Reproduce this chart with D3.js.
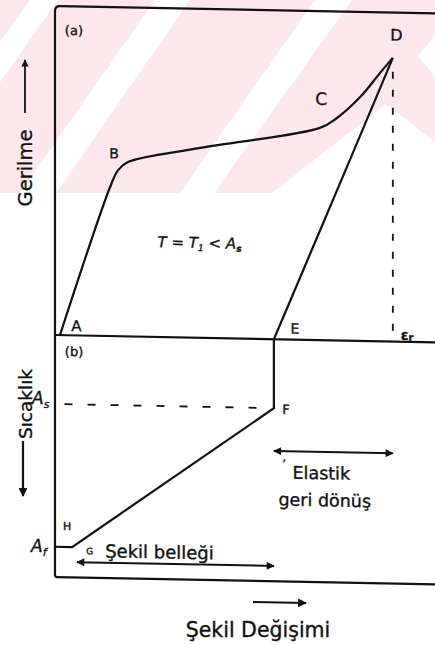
<!DOCTYPE html>
<html>
<head>
<meta charset="utf-8">
<script src="https://cdn.jsdelivr.net/npm/d3@7"></script>
<style>
  html, body { margin: 0; padding: 0; background: #fff; }
  svg { display: block; }
  text { font-family: "DejaVu Sans", sans-serif; fill: #111; stroke: #111; stroke-width: 0.35px; }
</style>
</head>
<body>
<svg id="chart" width="435" height="645"></svg>
<script>
// (a) stress–strain loading path A-B-C-D at T = T1 < As  [strain, stress]
const loadingStrain = [1.3, 14.5, 16.6, 19.2, 38.2, 69.7, 74.2, 80.3, 85.5, 88.9];
const loadingStress = [0, 45.3, 50.5, 53.0, 57.7, 64.5, 67.6, 74.1, 81.5, 86.2];
// elastic unloading D-E
const unloadStrain = [88.9, 76.0, 57.6];
const unloadStress = [86.2, 50.5, 0];
// (b) heating path E-F-H-(Af) [strain, temperature]
const heatStrain = [57.6, 57.6, 4.5, 0];
const heatTemp   = [0, 28.5, 87.5, 87.5];
// transformation temperatures
const tempAs = 28.5;
const tempAf = 87.5;
// residual strain after unloading and point labels
const strainResidual = 57.6;
const strainMax = 88.9;
const pointLabels = ["A", "B", "C", "D", "E", "F", "H", "G"];

const svg = d3.select("#chart");

// faint watermark band behind the upper panel
const wm = svg.append("g");
wm.append("rect").attr("x", 0).attr("y", 0).attr("width", 435).attr("height", 193).attr("fill", "#fce8ec");
const whiteBands = [
  [[30,0],[58,0],[0,82],[0,42]],
  [[155,0],[190,0],[56,193],[20,193]],
  [[315,0],[352,0],[214,193],[180,193]],
  [[272,193],[386,104],[435,142],[435,193]],
  [[418,56],[435,36],[435,76]]
];
wm.selectAll("polygon").data(whiteBands).join("polygon")
  .attr("points", d => d.map(p => p.join(",")).join(" "))
  .attr("fill", "#fff");

// scales
const x = d3.scaleLinear().domain([0, 100]).range([55, 435]);
const yS = d3.scaleLinear().domain([0, 100]).range([335, 6]);     // stress (a)
const yT = d3.scaleLinear().domain([0, 100]).range([335, 577]);   // temperature (b), increasing downward

// the drawing sits on a slightly sheared sheet
const k = 1.1;
const g = svg.append("g")
  .attr("transform", `translate(55,0) skewY(${k}) translate(-55,0)`);

const ink = "#111";
const sw = 2.2;

// frame: left axis with rounded top corner, top edge, shared strain axis, bottom edge
const r = 5;
g.append("path")
  .attr("d", `M${x(100)},${yS(100)} L${x(0) + r},${yS(100)} Q${x(0)},${yS(100)} ${x(0)},${yS(100) + r} L${x(0)},${yT(100) - 2} Q${x(0)},${yT(100)} ${x(0) + 2},${yT(100)} L${x(100)},${yT(100)}`)
  .attr("fill", "none").attr("stroke", ink).attr("stroke-width", sw);
g.append("line")
  .attr("x1", x(0)).attr("x2", x(100)).attr("y1", yS(0)).attr("y2", yS(0))
  .attr("stroke", ink).attr("stroke-width", sw);

// loading curve
const lineA = d3.line().x(d => x(d[0])).y(d => yS(d[1])).curve(d3.curveCatmullRom.alpha(0.5));
g.append("path")
  .attr("d", lineA(d3.zip(loadingStrain, loadingStress)))
  .attr("fill", "none").attr("stroke", ink).attr("stroke-width", sw);
// unloading
g.append("path")
  .attr("d", lineA(d3.zip(unloadStrain, unloadStress)))
  .attr("fill", "none").attr("stroke", ink).attr("stroke-width", sw);
// dashed drop from D to the strain axis
g.append("line")
  .attr("x1", x(strainMax)).attr("x2", x(strainMax))
  .attr("y1", yS(82)).attr("y2", yS(0))
  .attr("stroke", ink).attr("stroke-width", 1.8).attr("stroke-dasharray", "7,11");

// heating path in (b)
const lineB = d3.line().x(d => x(d[0])).y(d => yT(d[1]));
g.append("path")
  .attr("d", lineB(d3.zip(heatStrain, heatTemp)))
  .attr("fill", "none").attr("stroke", ink).attr("stroke-width", sw);
// As level
g.append("line")
  .attr("x1", x(2.5)).attr("x2", x(strainResidual - 1)).attr("y1", yT(tempAs)).attr("y2", yT(tempAs))
  .attr("stroke", ink).attr("stroke-width", 1.8).attr("stroke-dasharray", "8,15");

// double-headed arrows
const defs = svg.append("defs");
defs.append("marker").attr("id", "head").attr("viewBox", "0 0 10 10")
  .attr("refX", 9).attr("refY", 5).attr("markerWidth", 5).attr("markerHeight", 4)
  .attr("orient", "auto-start-reverse")
  .append("path").attr("d", "M0,0 L10,5 L0,10 z").attr("fill", ink);

function dblArrow(x1, x2, yv) {
  g.append("line").attr("x1", x1).attr("x2", x2).attr("y1", yv).attr("y2", yv)
    .attr("stroke", ink).attr("stroke-width", 2)
    .attr("marker-start", "url(#head)").attr("marker-end", "url(#head)");
}
dblArrow(x(strainResidual), x(strainMax), yT(46.2));
dblArrow(x(5.8), x(strainResidual), yT(93.7));

// point labels
const lab = (t, px, py, size, extra) => {
  const el = g.append("text").attr("x", px).attr("y", py).attr("font-size", size).text(t);
  if (extra) extra(el);
  return el;
};
lab(pointLabels[0], x(4.3), yS(1.3), 15);
lab(pointLabels[1], x(14.3), yS(54), 14);
lab(pointLabels[2], x(68.5), yS(71.5), 17);
lab(pointLabels[3], x(88.2), yS(91.5), 16);
lab(pointLabels[4], x(62.0), yS(1.8), 14);
lab(pointLabels[5], x(59.8), yT(30.8), 13);
lab(pointLabels[6], x(2.1), yT(80.5), 11);
lab(pointLabels[7], x(8.2), yT(90.4), 9);
lab("(a)", x(2.6), yS(91.3), 13);
lab("(b)", x(2.6), yT(8.6), 13);

// residual strain
const er = lab("ε", x(91.0), yS(0.6), 14, e => e.attr("font-weight", "bold"));
er.append("tspan").attr("font-size", 10).attr("dy", 1).text("r");

// test temperature note
const tt = lab("", x(27.0), yS(27.3), 15, e => e.attr("font-style", "italic"));
tt.append("tspan").text("T = T");
tt.append("tspan").attr("font-size", 9).attr("dy", 3).text("1");
tt.append("tspan").attr("dy", -3).text(" < A");
tt.append("tspan").attr("font-size", 9).attr("dy", 3).attr("font-weight", "bold").text("s");

// annotations in (b)
lab("Elastik", x(62.5), yT(57.5), 17.5);
lab("geri dönüş", x(58.8), yT(68.7), 17.5);
lab("ʼ", x(59.8), yT(53.3), 12);
lab("Şekil belleği", x(13.2), yT(91.5), 18);

// temperature labels at the left edge
const as = svg.append("text").attr("x", 32).attr("y", 404).attr("font-size", 17).attr("font-style", "italic").text("A");
as.append("tspan").attr("font-size", 11).attr("dy", 4).text("s");
const af = svg.append("text").attr("x", 31).attr("y", 552).attr("font-size", 17).attr("font-style", "italic").text("A");
af.append("tspan").attr("font-size", 11).attr("dy", 4).text("f");

// axis titles with their arrows
svg.append("text").attr("transform", "translate(32,168) rotate(-90)")
  .attr("text-anchor", "middle").attr("font-size", 19.5).text("Gerilme");
svg.append("line").attr("x1", 25).attr("x2", 25).attr("y1", 113).attr("y2", 60)
  .attr("stroke", ink).attr("stroke-width", 1.8).attr("marker-end", "url(#head)");

svg.append("text").attr("transform", "translate(32,404) rotate(-90)")
  .attr("text-anchor", "middle").attr("font-size", 18.5).text("Sıcaklık");
svg.append("line").attr("x1", 23).attr("x2", 23).attr("y1", 441).attr("y2", 496)
  .attr("stroke", ink).attr("stroke-width", 2.2).attr("marker-end", "url(#head)");

svg.append("line").attr("x1", 253).attr("x2", 306).attr("y1", 602).attr("y2", 603)
  .attr("stroke", ink).attr("stroke-width", 2.2).attr("marker-end", "url(#head)");
svg.append("text").attr("x", 258).attr("y", 637).attr("text-anchor", "middle")
  .attr("font-size", 20.5).text("Şekil Değişimi");
</script>
</body>
</html>
